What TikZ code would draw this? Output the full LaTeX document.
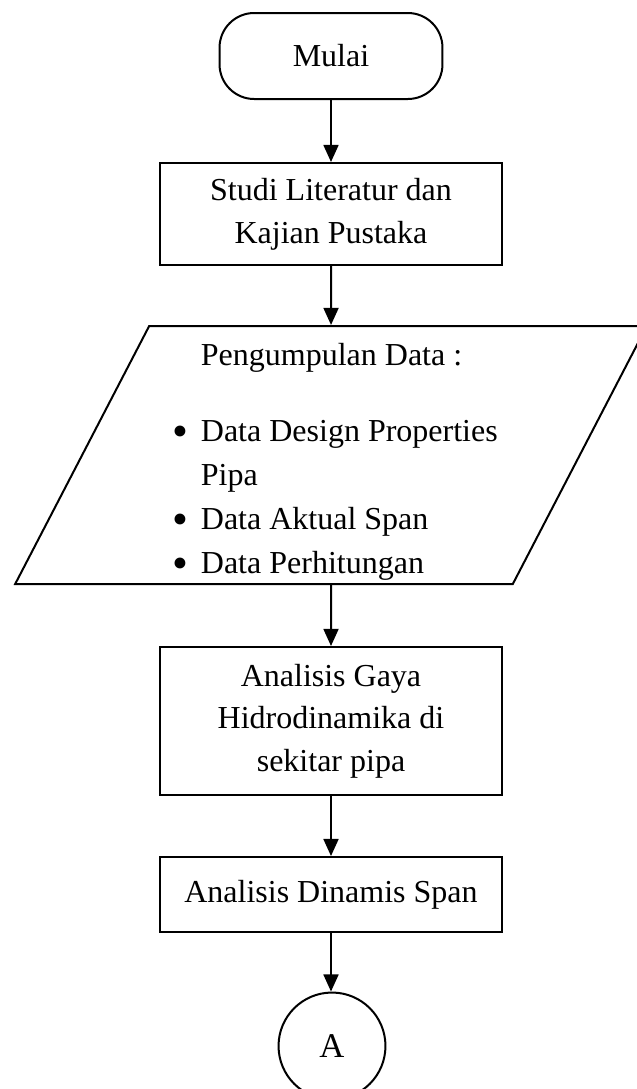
\documentclass[tikz,border=0pt]{standalone}
\usepackage{fontspec}
\setmainfont{Liberation Serif}
\usetikzlibrary{arrows.meta,shapes.geometric}

\newcommand{\butir}{\raisebox{-2pt}{\fontsize{17}{16}\selectfont\textbullet}}

\begin{document}
\begin{tikzpicture}[x=0.375pt,y=0.375pt,line width=0.75pt,
  >={Triangle[length=6.4pt,width=5.6pt]},
  terminal/.style={draw,rounded corners=13pt,minimum width=83.6pt,minimum height=32.25pt},
  proses/.style={draw,minimum width=128.6pt},
  io/.style={draw,trapezium,trapezium left angle=64,trapezium right angle=116,
    trapezium stretches=true,minimum width=237.4pt,minimum height=96.75pt},
  sambung/.style={draw,circle,minimum size=40.1pt}]
\tikzstyle{every node}+=[inner sep=0pt,align=center,font=\fontsize{12}{16}\selectfont]
\useasboundingbox (0,0) rectangle (636,-1089);
\node [terminal] (mulai) at (331,-56) {Mulai};
\node [proses,minimum height=38.25pt] (studi) at (331,-214) {Studi Literatur dan\\Kajian Pustaka};
\node [io,font=\fontsize{12}{16.5}\selectfont,text height=52.25pt,text depth=42.25pt] (data) at (331,-455) {\begin{tabular}{@{\hspace{3.2pt}}c@{\hspace{4.6pt}}l@{}}
 & Pengumpulan Data :\\[12pt]
\butir & Data Design Properties\\
 & Pipa\\
\butir & Data Aktual Span\\
\butir & Data Perhitungan
\end{tabular}};
\node [proses,minimum height=55.5pt] (gaya) at (331,-721) {Analisis Gaya\\Hidrodinamika di\\sekitar pipa};
\node [proses,minimum height=28.1pt] (dinamis) at (331,-894.5) {Analisis Dinamis Span};
\node [sambung,font=\fontsize{13}{16}\selectfont] (konektor) at (332,-1046) {A};
\draw [->] (mulai) -- (studi);
\draw [->] (studi) -- (data);
\draw [->] (data) -- (gaya);
\draw [->] (gaya) -- (dinamis);
\draw [->] (dinamis) -- (dinamis |- konektor.north);
\end{tikzpicture}
\end{document}
